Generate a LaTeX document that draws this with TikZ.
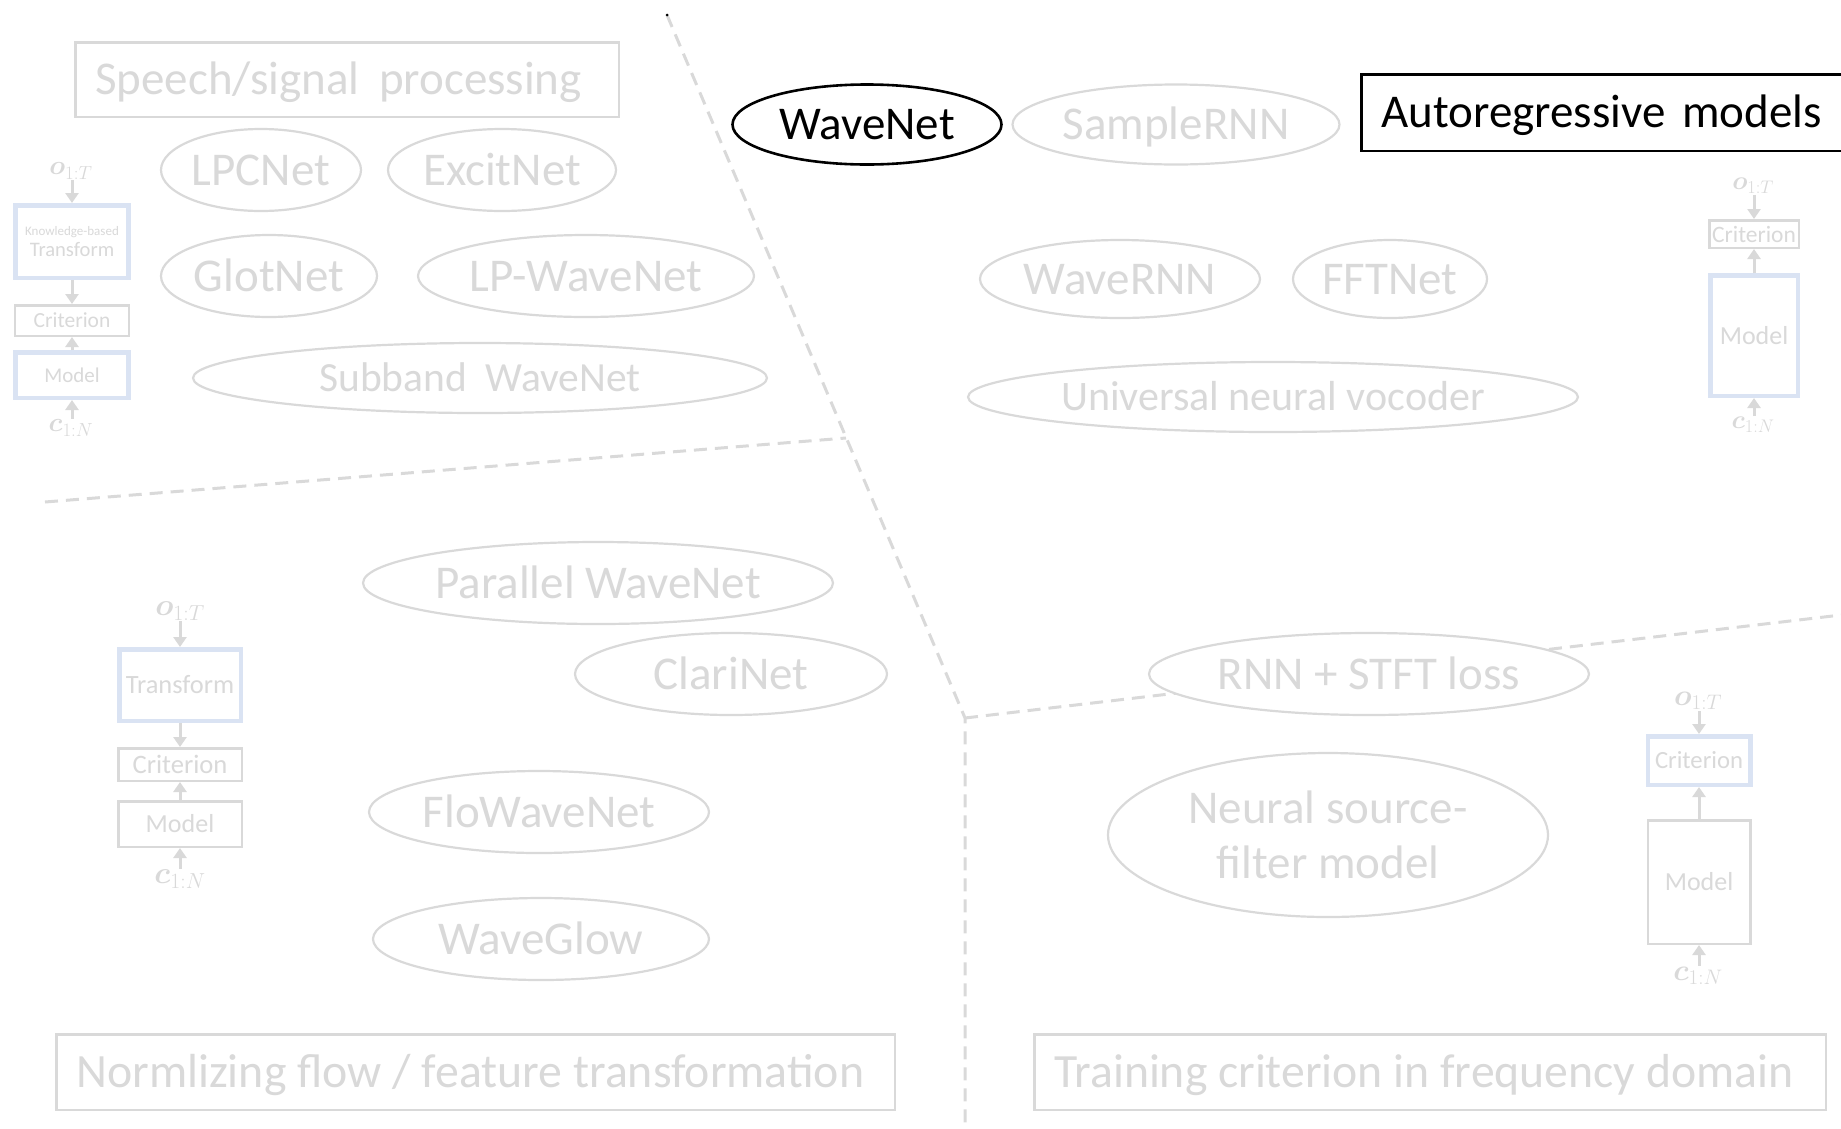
\RequirePackage{fix-cm}
\documentclass[tikz,border=0pt]{standalone}
\usepackage[no-math]{fontspec}
\setmainfont{Carlito}
\usepackage{bm}
\usetikzlibrary{shapes.geometric,arrows.meta}
\definecolor{faint}{HTML}{D9D9D9}
\definecolor{paleblue}{HTML}{DAE3F3}
\newcommand{\fsz}[1]{\fontsize{#1}{#1}\selectfont}

\begin{document}
\begin{tikzpicture}[x=1pt, y=-1pt,
  sep/.style={draw=faint, line width=3pt, dash pattern=on 13pt off 8pt},
  bubble/.style={ellipse, draw=faint, line width=2.2pt, fill=white, text=faint,
    inner sep=0pt, font=\fsz{47}, text height=30pt, text depth=0pt},
  keybubble/.style={bubble, draw=black, text=black, line width=2.6pt},
  tagbox/.style={rectangle, draw=faint, line width=2.5pt, text=faint, fill=white,
    inner xsep=20pt, inner ysep=0pt, font=\fsz{47}, text height=30pt, text depth=0pt},
  minibox/.style={rectangle, draw=faint, line width=2.5pt, text=faint, fill=white, inner sep=0pt},
  blueframe/.style={minibox, draw=paleblue, line width=4.5pt},
  var/.style={text=faint, inner sep=1pt},
  feed/.style={draw=faint, line width=3pt, -{Triangle[length=10pt, width=13pt]}}
]
\useasboundingbox (0,0) rectangle (1841,1128);

% region separators
\coordinate (ptop) at (667,15);
\coordinate (pmid) at (846,438);
\coordinate (pcorner) at (965,718);
\coordinate (pbot) at (965,1128);
\coordinate (pleft) at (45,502);
\coordinate (pright) at (1841,615);
\draw[sep] (ptop) -- (pcorner) -- (pbot);
\draw[sep] (pleft) -- (pmid);
\draw[sep] (pcorner) -- (pright);
\fill[black] (ptop) circle (1.5);

% speech / signal processing
\node[tagbox, minimum height=74.5pt] (sp) at (347,79.5) {\makebox[503.5pt][l]{Speech/signal\hspace{0.42em}processing}};
\node[bubble, minimum width=200pt, minimum height=82pt] (lpc) at (261,170) {\makebox[0pt]{LPCNet}};
\node[bubble, minimum width=228pt, minimum height=82pt] (exc) at (502,170) {\makebox[0pt]{ExcitNet}};
\node[bubble, minimum width=216pt, minimum height=82pt] (glot) at (269,276) {\makebox[0pt]{GlotNet}};
\node[bubble, minimum width=336pt, minimum height=82pt] (lpw) at (586,276) {\makebox[0pt]{LP-WaveNet}};
\node[bubble, minimum width=574pt, minimum height=70pt, font=\fsz{41.5}, text height=27pt] (sub) at (480,378) {\makebox[0pt]{Subband~~WaveNet}};

% knowledge-based transform pipeline
\node[var, font=\fsz{27}] (o1) at (71,171) {$\bm{o}_{1:T}$};
\node[blueframe, minimum width=113pt, minimum height=72.5pt, align=center] (kt) at (72,241.5)
  {{\fsz{13}Knowledge-based}\\[3pt]{\fsz{20.6}Transform}};
\node[minibox, minimum width=114pt, minimum height=30.5pt, font=\fsz{21.5}] (cr1) at (72,320.5) {Criterion};
\node[blueframe, minimum width=113pt, minimum height=45.5pt, font=\fsz{21}] (md1) at (72,375) {Model};
\node[var, font=\fsz{27}] (c1) at (71,428) {$\bm{c}_{1:N}$};
\draw[feed] (o1.south -| kt.north) -- (kt.north);
\draw[feed] (kt.south) -- (cr1.north);
\draw[feed] (md1.north) -- (cr1.south);
\draw[feed] (c1.north -| md1.south) -- (md1.south);

% autoregressive models
\node[tagbox, draw=black, text=black, anchor=west, minimum height=76.5pt] (ar) at (1360,112.5) {\makebox[480pt][l]{Autoregressive\hspace{0.36em}models}};
\node[keybubble, minimum width=269pt, minimum height=80pt] (wn) at (867,124.5) {\makebox[0pt]{WaveNet}};
\node[bubble, minimum width=327pt, minimum height=80pt] (srnn) at (1176,124.5) {\makebox[0pt]{SampleRNN}};
\node[bubble, minimum width=280pt, minimum height=78pt] (wrnn) at (1120,279) {\makebox[0pt]{WaveRNN}};
\node[bubble, minimum width=194pt, minimum height=78pt] (fft) at (1390,279) {\makebox[0pt]{FFTNet}};
\node[bubble, minimum width=610pt, minimum height=70pt, font=\fsz{42}, text height=27pt] (unv) at (1273,397) {\makebox[0pt]{Universal neural vocoder}};

% autoregressive pipeline
\node[var, font=\fsz{26}] (o2) at (1753,186) {$\bm{o}_{1:T}$};
\node[minibox, minimum width=89.5pt, minimum height=27.5pt, font=\fsz{23.5}] (cr2) at (1754,234) {Criterion};
\node[blueframe, minimum width=87.5pt, minimum height=120.5pt, font=\fsz{26}] (md2) at (1754,335.5) {Model};
\node[var, font=\fsz{26}] (c2) at (1753,425) {$\bm{c}_{1:N}$};
\draw[feed] (o2.south -| cr2.north) -- (cr2.north);
\draw[feed] (md2.north) -- (cr2.south);
\draw[feed] (c2.north -| md2.south) -- (md2.south);

% normalizing flow / feature transformation
\node[bubble, minimum width=470pt, minimum height=82pt] (pwn) at (598,583) {\makebox[0pt]{Parallel WaveNet}};
\node[bubble, minimum width=312pt, minimum height=82pt] (clari) at (731,674) {\makebox[0pt]{ClariNet}};
\node[bubble, minimum width=340pt, minimum height=82pt] (flow) at (539,812) {\makebox[0pt]{FloWaveNet}};
\node[bubble, minimum width=336pt, minimum height=82pt] (glow) at (541,939) {\makebox[0pt]{WaveGlow}};
\node[tagbox, minimum height=75.5pt, font=\fsz{47.8}] (nf) at (475.5,1072) {\makebox[798.5pt][l]{Normlizing flow / feature transformation}};

% transform pipeline
\node[var, font=\fsz{31}] (o3) at (180,611) {$\bm{o}_{1:T}$};
\node[blueframe, minimum width=121.5pt, minimum height=71.5pt, font=\fsz{26.4}] (tr3) at (180,685) {Transform};
\node[minibox, minimum width=123.5pt, minimum height=32.5pt, font=\fsz{26.6}] (cr3) at (180,764.5) {Criterion};
\node[minibox, minimum width=123.5pt, minimum height=45.5pt, font=\fsz{26}] (md3) at (180,824) {Model};
\node[var, font=\fsz{31}] (c3) at (180,879) {$\bm{c}_{1:N}$};
\draw[feed] (o3.south -| tr3.north) -- (tr3.north);
\draw[feed] (tr3.south) -- (cr3.north);
\draw[feed] (md3.north) -- (cr3.south);
\draw[feed] (c3.north -| md3.south) -- (md3.south);

% training criterion in frequency domain
\node[bubble, minimum width=440pt, minimum height=82pt] (rnn) at (1369,674) {\makebox[0pt]{RNN + STFT loss}};
\node[bubble, minimum width=440pt, minimum height=164pt] (nsf) at (1328,835) {};
\node[text=faint, align=center, font=\fontsize{47}{55}\selectfont, inner sep=0pt] (nsftext) at (nsf.center) {Neural source-\\filter model};
\node[tagbox, minimum height=75.5pt, font=\fsz{47.7}] (tc) at (1430,1072) {\makebox[751.5pt][l]{Training criterion in frequency domain}};

% frequency-domain pipeline
\node[var, font=\fsz{30}] (o4) at (1698,701) {$\bm{o}_{1:T}$};
\node[blueframe, minimum width=102.5pt, minimum height=48.5pt, font=\fsz{24.7}] (cr4) at (1699,760.5) {Criterion};
\node[minibox, minimum width=102.5pt, minimum height=123.5pt, font=\fsz{26}] (md4) at (1699,882) {Model};
\node[var, font=\fsz{30}] (c4) at (1698,976) {$\bm{c}_{1:N}$};
\draw[feed] (o4.south -| cr4.north) -- (cr4.north);
\draw[feed] (md4.north) -- (cr4.south);
\draw[feed] (c4.north -| md4.south) -- (md4.south);
\end{tikzpicture}
\end{document}
